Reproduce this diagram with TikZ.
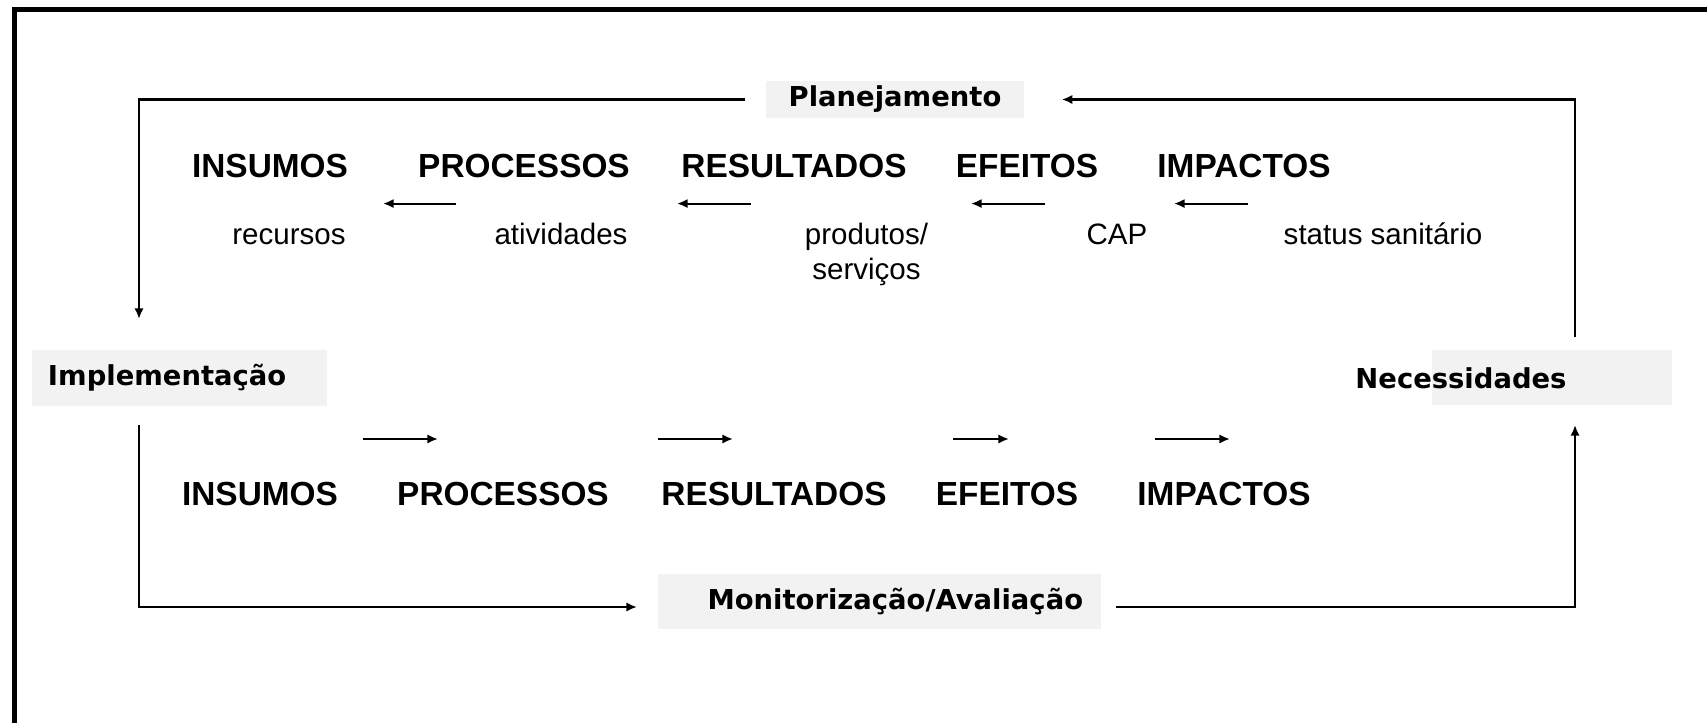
\documentclass[tikz,border=0pt]{standalone}
\usepackage{fontspec}
\setmainfont{Liberation Sans}
\newfontfamily\boxfont{DejaVu Sans}
\definecolor{mgGray}{HTML}{F2F2F2}
\usetikzlibrary{arrows.meta}

\begin{document}
\begin{tikzpicture}[
  stage/.style={anchor=base, inner sep=0pt, font=\fontsize{9.5}{11}\selectfont\bfseries},
  item/.style={anchor=base, inner sep=0pt, align=center, font=\fontsize{8.4}{10}\selectfont},
  phase/.style={fill=mgGray, inner sep=0pt, font=\boxfont\bfseries\fontsize{7.8}{9}\selectfont},
  arr/.style={-{Latex[length=3pt,width=2.6pt]}, line width=0.6pt},
  frame/.style={line width=1.4pt}
]
  \useasboundingbox (0,0) rectangle (17.07,-7.23);
  \draw[frame] (0.145,-7.23) -- (0.145,-0.095) -- (17.07,-0.095);

  % phases of the cycle
  \node[phase, minimum width=2.58cm, minimum height=0.37cm] (plan) at (8.95,-0.995) {Planejamento};
  \node[phase, text width=2.63cm, align=left, inner xsep=0.16cm, minimum height=0.56cm] (impl) at (1.795,-3.78) {Implementação};
  \node[phase, text width=4.07cm, align=right, inner xsep=0.18cm, minimum height=0.55cm] (mon) at (8.795,-6.015) {Monitorização/Avaliação};
  \fill[mgGray] (14.32,-3.50) rectangle (16.72,-4.05);
  \node[phase, fill=none] (need) at (14.61,-3.78) {Necessidades};

  % planning row
  \node[stage] (insumosP) at (2.70,-1.78) {INSUMOS};
  \node[stage] (processosP) at (5.24,-1.78) {PROCESSOS};
  \node[stage] (resultadosP) at (7.94,-1.78) {RESULTADOS};
  \node[stage] (efeitosP) at (10.27,-1.78) {EFEITOS};
  \node[stage] (impactosP) at (12.44,-1.78) {IMPACTOS};

  \node[item] (recursos) at (2.89,-2.45) {recursos};
  \node[item] (atividades) at (5.61,-2.45) {atividades};
  \node[item] (produtos) at (8.665,-2.80) {produtos/\\serviços};
  \node[item] (cap) at (11.17,-2.45) {CAP};
  \node[item] (status) at (13.83,-2.45) {status sanitário};

  \foreach \xa/\xb [count=\i] in {4.56/3.83, 7.51/6.77, 10.45/9.71, 12.48/11.74} {
    \coordinate (backA\i) at (\xa,-2.036);
    \coordinate (backB\i) at (\xb,-2.036);
    \draw[arr] (backA\i) -- (backB\i);
  }

  % implementation row
  \node[stage] (insumosM) at (2.60,-5.06) {INSUMOS};
  \node[stage] (processosM) at (5.03,-5.06) {PROCESSOS};
  \node[stage] (resultadosM) at (7.74,-5.06) {RESULTADOS};
  \node[stage] (efeitosM) at (10.07,-5.06) {EFEITOS};
  \node[stage] (impactosM) at (12.24,-5.06) {IMPACTOS};

  \foreach \xa/\xb [count=\i] in {3.63/4.38, 6.58/7.33, 9.53/10.09, 11.55/12.30} {
    \coordinate (fwdA\i) at (\xa,-4.39);
    \coordinate (fwdB\i) at (\xb,-4.39);
    \draw[arr] (fwdA\i) -- (fwdB\i);
  }

  % cycle connectors
  \coordinate (implIn) at (1.39,-3.19);
  \coordinate (implOut) at (1.39,-4.25);
  \coordinate (monIn) at (6.37,-6.07);
  \coordinate (monOut) at (11.16,-6.07);
  \coordinate (needIn) at (15.75,-4.25);
  \coordinate (needOut) at (15.75,-3.37);

  \draw[arr] ([xshift=-2mm]plan.west) -| (implIn);
  \draw[arr] (implOut) |- (monIn);
  \draw[arr] (monOut) -| (needIn);
  \draw[arr] (needOut) |- ([xshift=3.7mm]plan.east);
\end{tikzpicture}
\end{document}
